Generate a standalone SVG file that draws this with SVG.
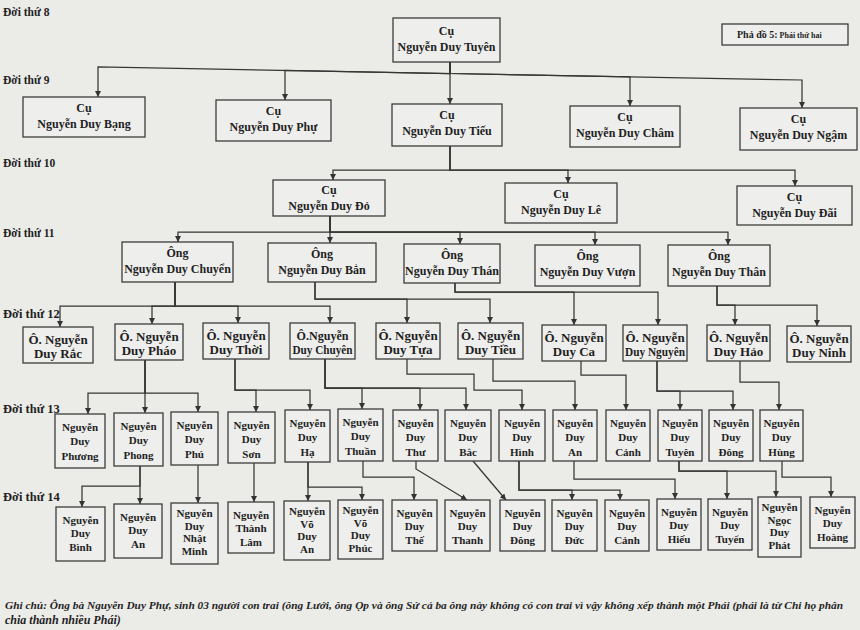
<svg xmlns="http://www.w3.org/2000/svg" width="860" height="630" viewBox="0 0 860 630">
<defs>
<marker id="ah" viewBox="0 0 8 8" refX="8" refY="4" markerWidth="6" markerHeight="6" orient="auto" markerUnits="userSpaceOnUse">
<path d="M0,0 L8,4 L0,8 z" fill="#333"/>
</marker>
<style>
.bg{fill:#ebebe8}
.box{fill:#eeeeec;stroke:#3c3c3c;stroke-width:1.3}
.t{font-family:"Liberation Serif","Times New Roman",serif;font-weight:bold;fill:#1f1f1f;text-anchor:middle}
.g9{font-size:12px}
.g12{font-size:13px}
.g13{font-size:11px}
.lbl{font-family:"Liberation Serif","Times New Roman",serif;font-weight:bold;font-size:11.5px;fill:#1f1f1f}
.c path{fill:none;stroke:#363636;stroke-width:1.25;marker-end:url(#ah)}
.note{font-family:"Liberation Serif","Times New Roman",serif;font-weight:bold;font-style:italic;font-size:11px;fill:#1f1f1f}
</style>
</defs>
<rect class="bg" x="0" y="0" width="860" height="630"/>

<g id="labels">
<text class="lbl" x="3" y="16">Đời thứ 8</text>
<text class="lbl" x="3" y="84">Đời thứ 9</text>
<text class="lbl" x="3" y="167">Đời thứ 10</text>
<text class="lbl" x="3" y="237">Đời thứ 11</text>
<text class="lbl" x="3" y="318" style="font-size:12.5px">Đời thứ 12</text>
<text class="lbl" x="3" y="413" style="font-size:12.5px">Đời thứ 13</text>
<text class="lbl" x="3" y="501" style="font-size:12.5px">Đời thứ 14</text>
</g>

<g id="title">
<rect class="box" x="722" y="24" width="126" height="21"/>
<text class="lbl" x="737" y="38"><tspan style="font-size:10px">Phả đồ 5:</tspan><tspan style="font-size:8px"> Phái thứ hai</tspan></text>
</g>

<g class="c" id="connectors">
<path d="M450,62 V104"/>
<path d="M450,62 V73.5 L98,67 V97"/>
<path d="M450,62 V73.5 L285,70.5 V100"/>
<path d="M450,62 V73.5 L630,76.8 V106"/>
<path d="M450,62 V73.5 L802,80 V108"/>
<path d="M450,146 V170 H333 V180"/>
<path d="M450,146 V170 H568 V183"/>
<path d="M450,146 V170 H795 V186"/>
<path d="M330,216 V232 H178 V242"/>
<path d="M330,216 V243"/>
<path d="M330,216 V232 H460 V244"/>
<path d="M330,216 V232 H595 V245"/>
<path d="M330,216 V232 H728 V245"/>
<path d="M175,282 V306 H60 V327"/>
<path d="M175,282 V306 H152 V324"/>
<path d="M175,282 V306 H238 V323"/>
<path d="M175,282 V306 H330 V323"/>
<path d="M315,282 V299 H407 V323"/>
<path d="M315,282 V299 H490 V323"/>
<path d="M455,283 V292 H574 V325"/>
<path d="M455,283 V292 H658 V325"/>
<path d="M717,286 V305 H735 V325"/>
<path d="M717,286 V305 H817 V326"/>
<path d="M145,360 V393 H88 V414"/>
<path d="M145,360 V413"/>
<path d="M145,360 V393 H198 V412"/>
<path d="M235,359 V390 H256 V412"/>
<path d="M235,359 V390 H310 V410"/>
<path d="M325,359 V388 H362 V409"/>
<path d="M325,359 V388 H420 V410"/>
<path d="M325,359 V388 H466 V410"/>
<path d="M407,359 V374 H474 V390 H522 V410"/>
<path d="M493,359 V381 H575 V410"/>
<path d="M581,361 V375 H626 V410"/>
<path d="M657,361 V391 H680 V410"/>
<path d="M657,361 V391 H733 V410"/>
<path d="M740,361 V382 H779 V410"/>
<path d="M140,466 V486 H82 V507"/>
<path d="M140,466 V504"/>
<path d="M198,465 V503"/>
<path d="M254,463 V502"/>
<path d="M308,462 V501"/>
<path d="M308,462 V487 H362 V500"/>
<path d="M363,461 V477 H414 V500"/>
<path d="M416,461 V469 L467,500"/>
<path d="M473,461 L506,500"/>
<path d="M519,461 V490 H572 V500"/>
<path d="M519,461 V490 H620 V500"/>
<path d="M574,461 V479 H675 V499"/>
<path d="M679,461 V471 H727 V499"/>
<path d="M679,461 V471 H776 V497"/>
<path d="M782,461 V477 H831 V497"/>
</g>

<g id="n-tuyen8"><rect class="box" x="393" y="18" width="107" height="44"/><text class="t g9" x="446.5" y="35">Cụ</text><text class="t g9" x="446.5" y="51">Nguyễn Duy Tuyên</text></g>

<g id="n-bang"><rect class="box" x="23" y="97" width="122" height="40"/><text class="t g9" x="84" y="112">Cụ</text><text class="t g9" x="84" y="128">Nguyễn Duy Bạng</text></g>
<g id="n-phu"><rect class="box" x="216" y="100" width="115" height="41"/><text class="t g9" x="273.5" y="115">Cụ</text><text class="t g9" x="273.5" y="131">Nguyễn Duy Phự</text></g>
<g id="n-tieu9"><rect class="box" x="392" y="104" width="110" height="42"/><text class="t g9" x="447" y="119">Cụ</text><text class="t g9" x="447" y="135">Nguyễn Duy Tiếu</text></g>
<g id="n-cham"><rect class="box" x="570" y="106" width="110" height="41"/><text class="t g9" x="625" y="121">Cụ</text><text class="t g9" x="625" y="137">Nguyễn Duy Châm</text></g>
<g id="n-ngam"><rect class="box" x="740" y="108" width="117" height="42"/><text class="t g9" x="798.5" y="123">Cụ</text><text class="t g9" x="798.5" y="139">Nguyễn Duy Ngậm</text></g>

<g id="n-do"><rect class="box" x="273" y="180" width="112" height="36"/><text class="t g9" x="329" y="194">Cụ</text><text class="t g9" x="329" y="210">Nguyễn Duy Đỏ</text></g>
<g id="n-le"><rect class="box" x="505" y="183" width="112" height="40"/><text class="t g9" x="561" y="198">Cụ</text><text class="t g9" x="561" y="214">Nguyễn Duy Lê</text></g>
<g id="n-dai"><rect class="box" x="737" y="186" width="115" height="39"/><text class="t g9" x="794.5" y="201">Cụ</text><text class="t g9" x="794.5" y="217">Nguyễn Duy Đãi</text></g>

<g id="n-chuyen11"><rect class="box" x="122" y="242" width="111" height="40"/><text class="t g9" x="177.5" y="257">Ông</text><text class="t g9" x="177.5" y="273">Nguyễn Duy Chuyển</text></g>
<g id="n-ban"><rect class="box" x="268" y="243" width="108" height="39"/><text class="t g9" x="322" y="258">Ông</text><text class="t g9" x="322" y="274">Nguyễn Duy Bẳn</text></g>
<g id="n-thann"><rect class="box" x="404" y="244" width="96" height="39"/><text class="t g9" x="452" y="259">Ông</text><text class="t g9" x="452" y="275">Nguyễn Duy Thán</text></g>
<g id="n-vuon"><rect class="box" x="535" y="245" width="105" height="41"/><text class="t g9" x="587.5" y="260">Ông</text><text class="t g9" x="587.5" y="276">Nguyễn Duy Vượn</text></g>
<g id="n-than"><rect class="box" x="668" y="245" width="102" height="41"/><text class="t g9" x="719" y="260">Ông</text><text class="t g9" x="719" y="276">Nguyễn Duy Thân</text></g>

<g id="n-rac"><rect class="box" x="23" y="327" width="70" height="36"/><text class="t g12" x="58" y="344">Ô. Nguyễn</text><text class="t g12" x="58" y="358">Duy Rắc</text></g>
<g id="n-phao"><rect class="box" x="115" y="324" width="68" height="36"/><text class="t g12" x="149" y="341">Ô. Nguyễn</text><text class="t g12" x="149" y="355">Duy Pháo</text></g>
<g id="n-thoi"><rect class="box" x="203" y="323" width="66" height="36"/><text class="t g12" x="236" y="340">Ô. Nguyễn</text><text class="t g12" x="236" y="354">Duy Thời</text></g>
<g id="n-chuyen12"><rect class="box" x="290" y="323" width="65" height="36"/><text class="t g12" x="322.5" y="340" textLength="52" lengthAdjust="spacingAndGlyphs">Ô.Nguyễn</text><text class="t g12" x="322.5" y="354" textLength="60" lengthAdjust="spacingAndGlyphs">Duy Chuyên</text></g>
<g id="n-tua"><rect class="box" x="376" y="323" width="64" height="36"/><text class="t g12" x="408" y="340">Ô. Nguyễn</text><text class="t g12" x="408" y="354">Duy Tựa</text></g>
<g id="n-tieu12"><rect class="box" x="458" y="323" width="65" height="36"/><text class="t g12" x="490.5" y="340">Ô. Nguyễn</text><text class="t g12" x="490.5" y="354">Duy Tiều</text></g>
<g id="n-ca"><rect class="box" x="542" y="325" width="64" height="36"/><text class="t g12" x="574" y="342">Ô. Nguyễn</text><text class="t g12" x="574" y="356">Duy Ca</text></g>
<g id="n-nguyen"><rect class="box" x="623" y="325" width="64" height="36"/><text class="t g12" x="655" y="342">Ô. Nguyễn</text><text class="t g12" x="655" y="356" textLength="60" lengthAdjust="spacingAndGlyphs">Duy Nguyên</text></g>
<g id="n-hao"><rect class="box" x="707" y="325" width="63" height="36"/><text class="t g12" x="738.5" y="342">Ô. Nguyễn</text><text class="t g12" x="738.5" y="356">Duy Hảo</text></g>
<g id="n-ninh"><rect class="box" x="787" y="326" width="64" height="36"/><text class="t g12" x="819" y="343">Ô. Nguyễn</text><text class="t g12" x="819" y="357">Duy Ninh</text></g>

<g id="n-phuong"><rect class="box" x="55" y="414" width="50" height="54"/><text class="t g13" x="80" y="431">Nguyễn</text><text class="t g13" x="80" y="445">Duy</text><text class="t g13" x="80" y="460">Phương</text></g>
<g id="n-phong"><rect class="box" x="114" y="413" width="49" height="53"/><text class="t g13" x="138.5" y="430">Nguyễn</text><text class="t g13" x="138.5" y="444">Duy</text><text class="t g13" x="138.5" y="459">Phong</text></g>
<g id="n-phu13"><rect class="box" x="171" y="412" width="47" height="53"/><text class="t g13" x="194.5" y="429">Nguyễn</text><text class="t g13" x="194.5" y="443">Duy</text><text class="t g13" x="194.5" y="458">Phú</text></g>
<g id="n-son"><rect class="box" x="228" y="412" width="47" height="51"/><text class="t g13" x="251.5" y="429">Nguyễn</text><text class="t g13" x="251.5" y="443">Duy</text><text class="t g13" x="251.5" y="458">Sơn</text></g>
<g id="n-ha"><rect class="box" x="285" y="410" width="45" height="52"/><text class="t g13" x="307.5" y="427">Nguyễn</text><text class="t g13" x="307.5" y="441">Duy</text><text class="t g13" x="307.5" y="456">Hạ</text></g>
<g id="n-thuan"><rect class="box" x="338" y="409" width="45" height="52"/><text class="t g13" x="360.5" y="426">Nguyễn</text><text class="t g13" x="360.5" y="440">Duy</text><text class="t g13" x="360.5" y="455">Thuần</text></g>
<g id="n-thu"><rect class="box" x="393" y="410" width="45" height="51"/><text class="t g13" x="415.5" y="427">Nguyễn</text><text class="t g13" x="415.5" y="441">Duy</text><text class="t g13" x="415.5" y="456">Thư</text></g>
<g id="n-bac"><rect class="box" x="445" y="410" width="46" height="51"/><text class="t g13" x="468" y="427">Nguyễn</text><text class="t g13" x="468" y="441">Duy</text><text class="t g13" x="468" y="456">Bắc</text></g>
<g id="n-hinh"><rect class="box" x="499" y="410" width="46" height="51"/><text class="t g13" x="522" y="427">Nguyễn</text><text class="t g13" x="522" y="441">Duy</text><text class="t g13" x="522" y="456">Hình</text></g>
<g id="n-an13"><rect class="box" x="553" y="410" width="44" height="51"/><text class="t g13" x="575" y="427">Nguyễn</text><text class="t g13" x="575" y="441">Duy</text><text class="t g13" x="575" y="456">An</text></g>
<g id="n-canh13"><rect class="box" x="606" y="410" width="44" height="51"/><text class="t g13" x="628" y="427">Nguyễn</text><text class="t g13" x="628" y="441">Duy</text><text class="t g13" x="628" y="456">Cảnh</text></g>
<g id="n-tuyen13"><rect class="box" x="658" y="410" width="44" height="51"/><text class="t g13" x="680" y="427">Nguyễn</text><text class="t g13" x="680" y="441">Duy</text><text class="t g13" x="680" y="456">Tuyên</text></g>
<g id="n-dong13"><rect class="box" x="709" y="410" width="44" height="51"/><text class="t g13" x="731" y="427">Nguyễn</text><text class="t g13" x="731" y="441">Duy</text><text class="t g13" x="731" y="456">Đông</text></g>
<g id="n-hung"><rect class="box" x="760" y="410" width="43" height="51"/><text class="t g13" x="781.5" y="427">Nguyễn</text><text class="t g13" x="781.5" y="441">Duy</text><text class="t g13" x="781.5" y="456">Hùng</text></g>

<g id="n-binh"><rect class="box" x="56" y="507" width="49" height="54"/><text class="t g13" x="80.5" y="524">Nguyễn</text><text class="t g13" x="80.5" y="537">Duy</text><text class="t g13" x="80.5" y="551">Bình</text></g>
<g id="n-an14"><rect class="box" x="114" y="504" width="48" height="54"/><text class="t g13" x="138" y="521">Nguyễn</text><text class="t g13" x="138" y="534">Duy</text><text class="t g13" x="138" y="548">An</text></g>
<g id="n-nhatminh"><rect class="box" x="171" y="503" width="47" height="61"/><text class="t g13" x="194.5" y="517">Nguyễn</text><text class="t g13" x="194.5" y="530">Duy</text><text class="t g13" x="194.5" y="542">Nhật</text><text class="t g13" x="194.5" y="555">Minh</text></g>
<g id="n-lam"><rect class="box" x="228" y="502" width="46" height="51"/><text class="t g13" x="251" y="519">Nguyễn</text><text class="t g13" x="251" y="532">Thành</text><text class="t g13" x="251" y="546">Lâm</text></g>
<g id="n-voan"><rect class="box" x="284" y="501" width="46" height="59"/><text class="t g13" x="307" y="515">Nguyễn</text><text class="t g13" x="307" y="528">Võ</text><text class="t g13" x="307" y="540">Duy</text><text class="t g13" x="307" y="553">An</text></g>
<g id="n-vophuc"><rect class="box" x="338" y="500" width="45" height="59"/><text class="t g13" x="360.5" y="514">Nguyễn</text><text class="t g13" x="360.5" y="527">Võ</text><text class="t g13" x="360.5" y="539">Duy</text><text class="t g13" x="360.5" y="552">Phúc</text></g>
<g id="n-the"><rect class="box" x="392" y="500" width="45" height="51"/><text class="t g13" x="414.5" y="517">Nguyễn</text><text class="t g13" x="414.5" y="530">Duy</text><text class="t g13" x="414.5" y="544">Thế</text></g>
<g id="n-thanh"><rect class="box" x="445" y="500" width="45" height="51"/><text class="t g13" x="467.5" y="517">Nguyễn</text><text class="t g13" x="467.5" y="530">Duy</text><text class="t g13" x="467.5" y="544">Thanh</text></g>
<g id="n-dong14"><rect class="box" x="500" y="500" width="45" height="51"/><text class="t g13" x="522.5" y="517">Nguyễn</text><text class="t g13" x="522.5" y="530">Duy</text><text class="t g13" x="522.5" y="544">Đông</text></g>
<g id="n-duc"><rect class="box" x="552" y="500" width="45" height="51"/><text class="t g13" x="574.5" y="517">Nguyễn</text><text class="t g13" x="574.5" y="530">Duy</text><text class="t g13" x="574.5" y="544">Đức</text></g>
<g id="n-canh14"><rect class="box" x="605" y="500" width="44" height="51"/><text class="t g13" x="627" y="517">Nguyễn</text><text class="t g13" x="627" y="530">Duy</text><text class="t g13" x="627" y="544">Cảnh</text></g>
<g id="n-hieu"><rect class="box" x="657" y="499" width="44" height="51"/><text class="t g13" x="679" y="516">Nguyễn</text><text class="t g13" x="679" y="529">Duy</text><text class="t g13" x="679" y="543">Hiếu</text></g>
<g id="n-tuyen14"><rect class="box" x="708" y="499" width="44" height="51"/><text class="t g13" x="730" y="516">Nguyễn</text><text class="t g13" x="730" y="529">Duy</text><text class="t g13" x="730" y="543">Tuyển</text></g>
<g id="n-phat"><rect class="box" x="758" y="497" width="43" height="60"/><text class="t g13" x="779.5" y="511">Nguyễn</text><text class="t g13" x="779.5" y="524">Ngọc</text><text class="t g13" x="779.5" y="536">Duy</text><text class="t g13" x="779.5" y="549">Phát</text></g>
<g id="n-hoang"><rect class="box" x="810" y="497" width="45" height="51"/><text class="t g13" x="832.5" y="514">Nguyễn</text><text class="t g13" x="832.5" y="527">Duy</text><text class="t g13" x="832.5" y="541">Hoàng</text></g>

<g id="note">
<text class="note" x="5" y="609" textLength="838" lengthAdjust="spacingAndGlyphs">Ghi chú: Ông bà Nguyễn Duy Phự, sinh 03 người con trai (ông Lưới, ông Ọp và ông Sứ cả ba ông này không có con trai vì vậy không xếp thành một Phái (phái là từ Chi họ phân</text>
<text class="note" x="5" y="624" style="font-size:12px">chia thành nhiều Phái)</text>
</g>
</svg>
